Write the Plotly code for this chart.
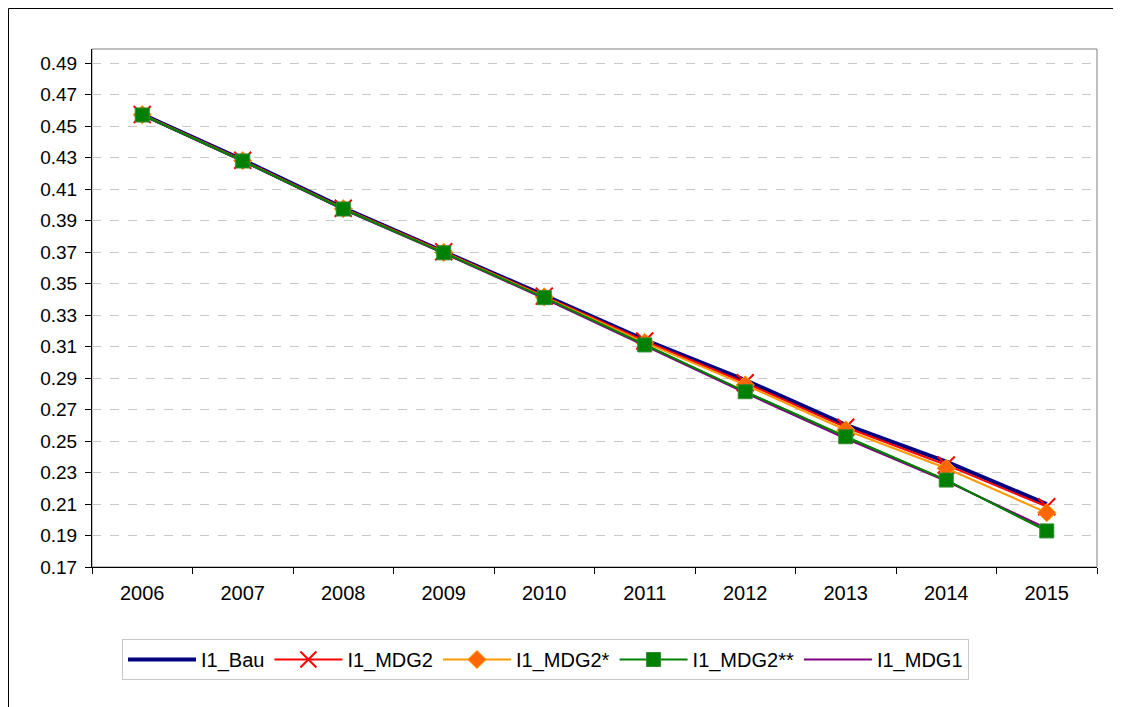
import plotly.graph_objects as go

years = ["2006", "2007", "2008", "2009", "2010", "2011", "2012", "2013", "2014", "2015"]
i1_bau = [0.4575, 0.4285, 0.3980, 0.3705, 0.3425, 0.3142, 0.2887, 0.2602, 0.2369, 0.2100]
i1_mdg2 = [0.4573, 0.4283, 0.3978, 0.3702, 0.3420, 0.3135, 0.2870, 0.2587, 0.2348, 0.2083]
i1_mdg2s = [0.4572, 0.4280, 0.3975, 0.3698, 0.3415, 0.3125, 0.2856, 0.2570, 0.2327, 0.2045]
i1_mdg2ss = [0.4570, 0.4278, 0.3973, 0.3695, 0.3410, 0.3110, 0.2813, 0.2527, 0.2252, 0.1929]
i1_mdg1 = [0.4568, 0.4276, 0.3970, 0.3692, 0.3405, 0.3105, 0.2805, 0.2515, 0.2245, 0.1945]
y_ticks = [0.17, 0.19, 0.21, 0.23, 0.25, 0.27, 0.29, 0.31, 0.33, 0.35, 0.37, 0.39, 0.41, 0.43, 0.45, 0.47, 0.49]

FONT = "Liberation Sans, Arial, sans-serif"

fig = go.Figure()
fig.add_trace(go.Scatter(x=years, y=i1_bau, name="I1_Bau", mode="lines",
                         line=dict(color="#000080", width=4), legendrank=1))
fig.add_trace(go.Scatter(x=years, y=i1_mdg2, name="I1_MDG2", mode="lines+markers",
                         line=dict(color="#FF0000", width=2),
                         marker=dict(symbol="x-thin", size=17, line=dict(color="#FF0000", width=2)),
                         legendrank=2))
fig.add_trace(go.Scatter(x=years, y=i1_mdg2s, name="I1_MDG2*", mode="lines+markers",
                         line=dict(color="#FF9900", width=2),
                         marker=dict(symbol="diamond", size=14, color="#FF6600",
                                     line=dict(color="#FF9900", width=1)),
                         legendrank=3))
fig.add_trace(go.Scatter(x=years, y=i1_mdg2ss, name="I1_MDG2**", mode="lines",
                         line=dict(color="#008000", width=2), showlegend=False))
fig.add_trace(go.Scatter(x=years, y=i1_mdg1, name="I1_MDG1", mode="lines",
                         line=dict(color="#800080", width=2), legendrank=5))
fig.add_trace(go.Scatter(x=years, y=i1_mdg2ss, name="I1_MDG2**", mode="lines+markers",
                         line=dict(color="#008000", width=2),
                         marker=dict(symbol="square", size=14, color="#008000",
                                     line=dict(color="#2E8B2E", width=1)),
                         legendrank=4))

# page has an 8px body margin; work in figure coordinates = page - 8
OFF = 8
W, H = 1121 - OFF, 707 - OFF
L, R, T, B = 92 - OFF, 1097 - OFF, 49 - OFF, 567 - OFF
pw, ph = R - L, B - T

def px(x):
    return (x - OFF - L) / pw

def py(y):
    return (B - (y - OFF)) / ph

shapes = [
    # outer chart frame
    dict(type="rect", xref="paper", yref="paper", x0=px(8.5), x1=px(1113.5), y0=py(730), y1=py(8.5),
         line=dict(color="#000000", width=1), fillcolor="rgba(0,0,0,0)", layer="below"),
    # plot area border
    dict(type="rect", xref="paper", yref="paper", x0=0, x1=1, y0=0, y1=1,
         line=dict(color="#808080", width=1), fillcolor="rgba(0,0,0,0)", layer="below"),
]

fig.update_layout(
    width=W, height=H,
    margin=dict(l=L, r=W - R, t=T, b=H - B, autoexpand=False),
    paper_bgcolor="white", plot_bgcolor="white",
    font=dict(family=FONT, size=19, color="#000000"),
    shapes=shapes,
    showlegend=True,
    legend=dict(orientation="h", x=px(122), y=py(639), xanchor="left", yanchor="top",
                bordercolor="#C8C8C8", borderwidth=1, bgcolor="white",
                font=dict(family=FONT, size=20, color="#000000"),
                itemwidth=68, tracegroupgap=0, itemclick=False),
    xaxis=dict(type="category", range=[-0.5, len(years) - 0.5], tickson="boundaries",
               ticks="outside", ticklen=6,
               tickcolor="#000000", showline=True, linecolor="#000000", linewidth=1,
               showgrid=False, zeroline=False, tickfont=dict(size=20),
               ticklabelstandoff=8, automargin=False),
    yaxis=dict(range=[0.17, 0.4989], tickvals=y_ticks, tickformat=".2f", ticks="outside",
               ticklen=6, tickcolor="#000000", showline=True, linecolor="#000000", linewidth=1,
               showgrid=True, gridcolor="#C8C8C8", griddash="dash", gridwidth=1,
               zeroline=False, tickfont=dict(size=19), ticklabelstandoff=4, automargin=False),
)

fig.write_html("out.html")
